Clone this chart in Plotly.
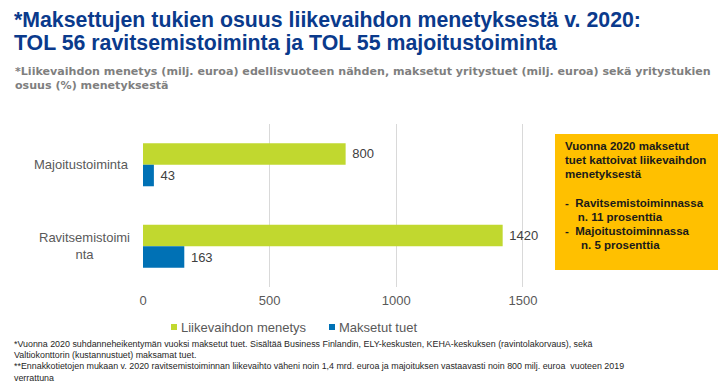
import plotly.graph_objects as go

# ---- data ----
categories = ["Majoitustoiminta", "Ravitsemistoiminta"]
category_labels = ["Majoitustoiminta", "Ravitsemistoimi<br>nta"]
series_names = ["Liikevaihdon menetys", "Maksetut tuet"]
turnover_loss = [800, 1420]
paid_support = [43, 163]
x_tick_values = [0, 500, 1000, 1500]

series_values = [turnover_loss, paid_support]
colors = ["#C1D82F", "#0071B5"]

# the page body has an 8px default margin; map reference pixels accordingly
OFF = 8
W, H = 728 - OFF, 383 - OFF
def px(x):
    return (x - OFF) / W
def py(y):
    return 1 - (y - OFF) / H

ARIAL = "Liberation Sans, Arial, sans-serif"
NARROW = "Liberation Sans Narrow, Arial Narrow, Liberation Sans, sans-serif"
GRAY = "#595959"

fig = go.Figure()
for name, vals, col in zip(series_names, series_values, colors):
    fig.add_trace(go.Bar(
        y=categories, x=vals, name=name, orientation="h",
        marker=dict(color=col, line=dict(width=0)),
        text=vals, texttemplate=" %{x}", textposition="outside",
        textfont=dict(family=ARIAL, size=13, color="#404040"),
        cliponaxis=False, constraintext="none", showlegend=False,
    ))

fig.update_layout(
    width=W, height=H,
    margin=dict(l=0, r=0, t=0, b=0, autoexpand=False),
    paper_bgcolor="white", plot_bgcolor="white",
    barmode="group", bargap=0.472, bargroupgap=0,
    font=dict(family=ARIAL, size=13, color=GRAY),
    xaxis=dict(domain=[px(143), px(528)], range=[0, 1520],
               tickvals=x_tick_values, showgrid=True, gridcolor="#D9D9D9",
               gridwidth=1, zeroline=False, showline=False, ticks="",
               ticklabelstandoff=4,
               tickfont=dict(family=ARIAL, size=13, color=GRAY)),
    yaxis=dict(domain=[py(287), py(124)], categoryorder="array",
               categoryarray=categories, autorange="reversed",
               showticklabels=False, showgrid=False, zeroline=False,
               showline=False, ticks=""),
)

ann = []
# category labels
for cat, lab in zip(categories, category_labels):
    if "<br>" in lab:
        ann.append(dict(x=px(84), y=cat, xref="paper", yref="y", text=lab,
                        showarrow=False, xanchor="center", yanchor="middle",
                        align="center", font=dict(family=ARIAL, size=13, color=GRAY)))
    else:
        ann.append(dict(x=px(131), y=cat, xref="paper", yref="y", text=lab,
                        showarrow=False, xanchor="right", yanchor="middle",
                        font=dict(family=ARIAL, size=13, color=GRAY)))

# title
title_lines = ["*Maksettujen tukien osuus liikevaihdon menetyksestä v. 2020:",
               "TOL 56 ravitsemistoiminta ja TOL 55 majoitustoiminta"]
for i, t in enumerate(title_lines):
    ann.append(dict(x=px(12), y=py(20 + 23 * i), xref="paper", yref="paper",
                    text="<b>%s</b>" % t, showarrow=False, xanchor="left",
                    yanchor="middle", font=dict(family=NARROW, size=21.3, color="#0A3A8C")))

sub_lines = ["*Liikevaihdon menetys (milj. euroa) edellisvuoteen nähden, maksetut yritystuet (milj. euroa) sekä yritystukien",
             "osuus (%) menetyksestä"]
for i, t in enumerate(sub_lines):
    ann.append(dict(x=px(13), y=py(72 + 14 * i), xref="paper", yref="paper",
                    text="<b>%s</b>" % t, showarrow=False, xanchor="left",
                    yanchor="middle", font=dict(family="DejaVu Sans, Verdana, sans-serif", size=11.1, color="#7F7F7F")))

# legend (manual)
legend_pos = [(171, 179), (329, 337)]
for (sx, tx), name, col in zip(legend_pos, series_names, colors):
    fig.add_shape(type="rect", xref="paper", yref="paper",
                  x0=px(sx), x1=px(sx + 6), y0=py(330), y1=py(324),
                  fillcolor=col, line=dict(width=0))
    ann.append(dict(x=px(tx), y=py(327), xref="paper", yref="paper", text=name,
                    showarrow=False, xanchor="left", yanchor="middle",
                    font=dict(family=ARIAL, size=13, color=GRAY)))

# orange info box
fig.add_shape(type="rect", xref="paper", yref="paper",
              x0=px(555), x1=px(718), y0=py(270), y1=py(134),
              fillcolor="#FFC000", line=dict(width=0), layer="below")
nb = "\u00a0"
box_lines = ["Vuonna 2020 maksetut", "tuet kattoivat liikevaihdon", "menetyksestä", "",
             "-" + nb * 2 + "Ravitsemistoiminnassa", nb * 4 + "n. 11 prosenttia",
             "-" + nb * 2 + "Majoitustoiminnassa", nb * 5 + "n. 5 prosenttia"]
box_y = [146, 160, 174, 188, 203, 217, 231, 245]
for t, yy in zip(box_lines, box_y):
    if not t:
        continue
    ann.append(dict(x=px(563), y=py(yy), xref="paper", yref="paper",
                    text="<b>%s</b>" % t, showarrow=False, xanchor="left",
                    yanchor="middle", font=dict(family=ARIAL, size=11.5, color="#1A1A1A")))

# footnotes
foot_lines = ["*Vuonna 2020 suhdanneheikentymän vuoksi maksetut tuet. Sisältää Business Finlandin, ELY-keskusten, KEHA-keskuksen (ravintolakorvaus), sekä",
              "Valtiokonttorin (kustannustuet) maksamat tuet.",
              "**Ennakkotietojen mukaan v. 2020 ravitsemistoiminnan liikevaihto väheni noin 1,4 mrd. euroa ja majoituksen vastaavasti noin 800 milj. euroa" + nb + nb + "vuoteen 2019",
              "verrattuna"]
for i, t in enumerate(foot_lines):
    ann.append(dict(x=px(12), y=py(344 + 11.2 * i), xref="paper", yref="paper",
                    text=t, showarrow=False, xanchor="left", yanchor="middle",
                    font=dict(family=NARROW, size=8.9, color="#262626")))

fig.update_layout(annotations=ann)
fig.write_html("out.html")
